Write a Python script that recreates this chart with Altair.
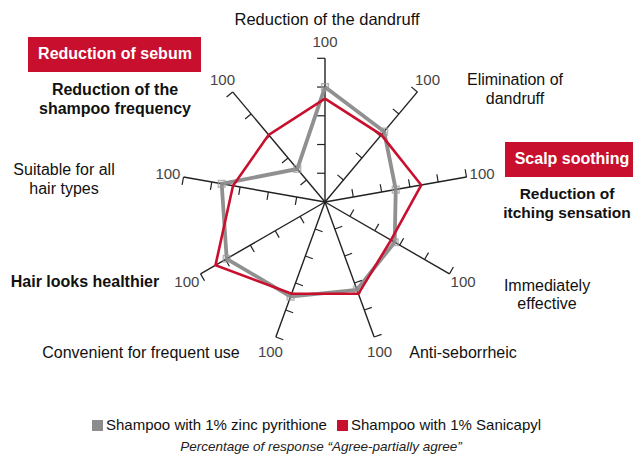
import altair as alt
import pandas as pd
import numpy as np

# ---------------- data ----------------
categories = [
    "Reduction of the dandruff",
    "Elimination of dandruff",
    "Reduction of itching sensation",
    "Immediately effective",
    "Anti-seborrheic",
    "Convenient for frequent use",
    "Hair looks healthier",
    "Suitable for all hair types",
    "Reduction of the shampoo frequency",
]
zinc = [80, 64, 50, 56, 65, 70, 79, 73, 30]
sanicapyl = [72, 61, 68, 53, 68, 68, 88, 65, 61]
tick_values = [20, 40, 60, 80, 100]
series = ["Shampoo with 1% zinc pyrithione", "Shampoo with 1% Sanicapyl"]
axis_max = 100

GRAY = "#8A8A8A"
RED = "#C8102E"
INK = "#222222"

# ---------------- geometry ----------------
W, H = 625, 446
K = 1.437            # pixels per unit
CX, CY = 317, 194    # centre of the radar in plot coordinates
xdom = [-CX / K, (W - CX) / K]
ydom = [-(H - CY) / K, CY / K]
n = len(categories)
theta = np.deg2rad(np.arange(n) * 360.0 / n)

xs = alt.Scale(domain=xdom, nice=False, zero=False)
ys = alt.Scale(domain=ydom, nice=False, zero=False)
X = lambda f: alt.X(f, type="quantitative", scale=xs, axis=None)
Y = lambda f: alt.Y(f, type="quantitative", scale=ys, axis=None)

# spokes
spokes = pd.DataFrame({
    "x": 0.0, "y": 0.0,
    "x2": axis_max * np.sin(theta), "y2": axis_max * np.cos(theta),
})

# ticks (short perpendicular marks on the counter-clockwise side)
L = 5.5
rows = []
for th in theta:
    for t in tick_values:
        px, py = t * np.sin(th), t * np.cos(th)
        rows.append({"x": px, "y": py,
                     "x2": px - L * np.cos(th), "y2": py + L * np.sin(th)})
ticks = pd.DataFrame(rows)

# polygons
poly_rows = []
for s, vals in zip(series, [zinc, sanicapyl]):
    for i in list(range(n)) + [0]:
        poly_rows.append({"series": s, "order": len(poly_rows),
                          "x": vals[i] * np.sin(theta[i]),
                          "y": vals[i] * np.cos(theta[i])})
poly = pd.DataFrame(poly_rows)
zinc_pts = poly[(poly.series == series[0])].iloc[:n]

# "100" labels
lab100 = pd.DataFrame({
    "x": 111 * np.sin(theta), "y": 111 * np.cos(theta),
    "t": [str(axis_max)] * n,
})

layers = []
layers.append(alt.Chart(spokes).mark_rule(color=INK, strokeWidth=1.4).encode(
    x=X("x"), y=Y("y"), x2="x2", y2="y2"))
layers.append(alt.Chart(ticks).mark_rule(color=INK, strokeWidth=1.2).encode(
    x=X("x"), y=Y("y"), x2="x2", y2="y2"))
layers.append(alt.Chart(poly[poly.series == series[0]]).mark_line(
    color=GRAY, strokeWidth=3.8, opacity=0.95).encode(
    x=X("x"), y=Y("y"), order="order:Q"))
layers.append(alt.Chart(zinc_pts).mark_point(
    shape="square", filled=False, size=45, color="#9A9A9A", strokeWidth=1.5).encode(
    x=X("x"), y=Y("y")))
layers.append(alt.Chart(poly[poly.series == series[1]]).mark_line(
    color=RED, strokeWidth=2.6).encode(
    x=X("x"), y=Y("y"), order="order:Q"))
layers.append(alt.Chart(lab100).mark_text(
    font="Liberation Sans", fontSize=15, color="#444444").encode(
    x=X("x"), y=Y("y"), text="t:N"))

FONT = "Liberation Sans"

def txt(s, px, py, bold=False, size=16, color="#111111", lh=20, italic=False, align="center"):
    return alt.Chart(pd.DataFrame({"t": [s]})).mark_text(
        font=FONT, fontSize=size, fontWeight="bold" if bold else "normal",
        fontStyle="italic" if italic else "normal",
        color=color, lineBreak="\n", lineHeight=lh, align=align, baseline="middle",
    ).encode(x=alt.value(px - 8), y=alt.value(py - 8), text="t:N")

def box(x0, y0, x1, y1, color=RED):
    return alt.Chart(pd.DataFrame({"a": [0]})).mark_rect(color=color).encode(
        x=alt.value(x0 - 8), x2=alt.value(x1 - 8),
        y=alt.value(y0 - 8), y2=alt.value(y1 - 8))

# category labels (same order as categories); y is the first line's centre
layers += [
    txt(categories[0], 327, 20, size=16.5),
    txt("Elimination of\ndandruff", 515, 79.5, lh=19),
    box(505, 142, 641, 177),
    txt("Scalp soothing", 572, 159, bold=True, color="white"),
    txt("Reduction of\nitching sensation", 567, 193.5, bold=True, size=15.5, lh=19.5),
    txt("Immediately\neffective", 547, 286, lh=17.5),
    txt(categories[4], 463, 353),
    txt(categories[5], 141, 353),
    txt(categories[6], 85, 282, bold=True),
    txt("Suitable for all\nhair types", 64, 169.5, lh=19),
    box(28, 37, 201, 72),
    txt("Reduction of sebum", 115, 54, bold=True, color="white"),
    txt("Reduction of the\nshampoo frequency", 115, 89.5, bold=True, lh=19),
]

# legend
layers += [
    box(92, 420, 103, 431, color="#8C8C8C"),
    txt(series[0], 106, 425, size=15, align="left"),
    box(337, 420, 348, 431, color=RED),
    txt(series[1], 351, 425, size=15, align="left"),
    txt("Percentage of response \u201cAgree-partially agree\u201d", 321, 446.5,
        size=13.5, italic=True, color="#222222"),
]

chart = alt.layer(*layers).properties(
    width=W, height=H, padding=0,
    autosize=alt.AutoSizeParams(type="none"),
).configure_view(stroke=None)

chart.save("out.html", embed_options={"renderer": "svg", "actions": False})
